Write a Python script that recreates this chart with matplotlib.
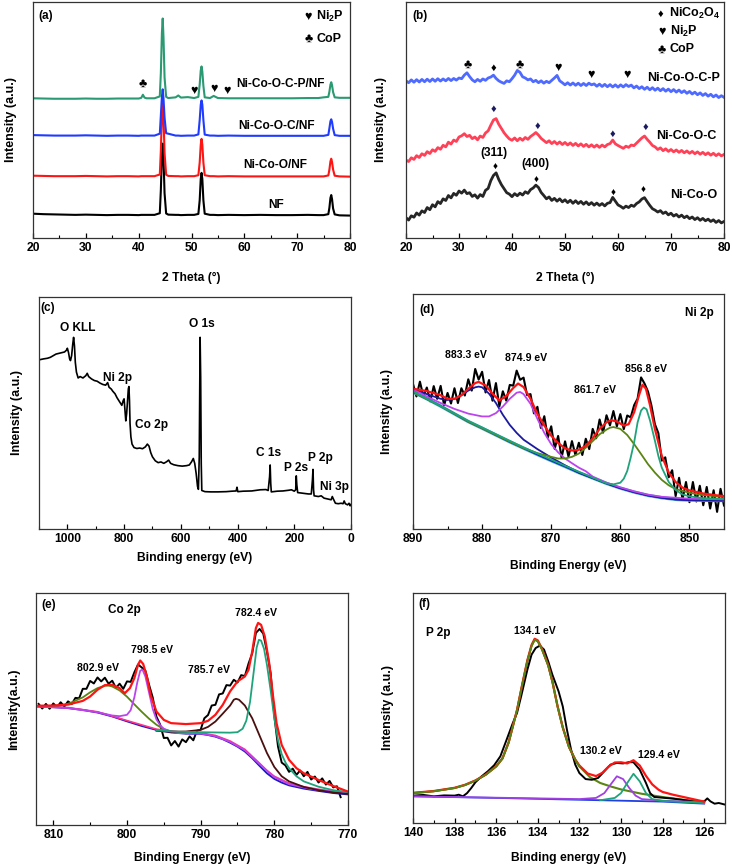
import numpy as np
import matplotlib
matplotlib.use('Agg')
import matplotlib.pyplot as plt
from matplotlib.ticker import MultipleLocator

plt.rcParams['font.family'] = ['Liberation Sans', 'DejaVu Sans']
plt.rcParams['font.weight'] = 'bold'
plt.rcParams['axes.labelweight'] = 'bold'
plt.rcParams['mathtext.fontset'] = 'custom'
plt.rcParams['mathtext.bf'] = 'Liberation Sans:bold'
plt.rcParams['mathtext.rm'] = 'Liberation Sans:bold'

# ---------------- (a) XRD on nickel foam ----------------
xa = [20, 22, 24, 26, 28, 30, 32, 34, 36, 38, 40, 40.5, 40.8, 41.1, 41.5, 43,
      44.0, 44.2, 44.4, 44.55, 44.7, 44.9, 45.2, 45.6,
      47.0, 47.5, 48.0, 49.3, 50.5,
      51.3, 51.55, 51.75, 51.9, 52.05, 52.25, 52.5,
      53.5, 54.2, 55, 57, 60, 63, 66, 69, 72, 74, 75.0,
      75.9, 76.1, 76.3, 76.45, 76.6, 76.8, 77.1, 78, 80]
nf = [10.3, 10.1, 10.0, 9.9, 9.8, 9.9, 9.8, 9.7, 9.8, 9.8, 9.7, 9.8, 9.8, 9.8, 9.8, 9.8,
      10.5, 20.4, 35.5, 40, 34, 19, 10.4, 9.9,
      9.8, 9.8, 9.7, 9.8, 9.8,
      10.2, 16, 25, 27.6, 25, 16, 10.3,
      9.8, 9.8, 9.7, 9.8, 9.7, 9.8, 9.7, 9.7, 9.8, 9.7, 9.7,
      10.1, 12.8, 17, 18.2, 16.5, 12.5, 10.0, 9.6, 9.5]
nco = [26.4, 26.3, 26.2, 26.2, 26.2, 26.3, 26.2, 26.1, 26.2, 26.2, 26.1, 26.2, 26.2, 26.2, 26.2, 26.2,
       26.9, 37, 52.5, 58, 51, 36, 26.8, 26.3,
       26.2, 26.2, 26.1, 26.2, 26.2,
       26.6, 32, 39.5, 42, 39.5, 32, 26.6,
       26.2, 26.2, 26.1, 26.2, 26.1, 26.1, 26.1, 26.1, 26.1, 26.1, 26.1,
       26.5, 29, 32.5, 33.6, 32.2, 29, 26.4, 26.1, 26.0]
ncoc = [43.6, 43.5, 43.4, 43.4, 43.4, 43.5, 43.4, 43.3, 43.4, 43.4, 43.3, 43.4, 43.4, 43.4, 43.4, 43.4,
        44.2, 52, 60, 63, 59, 51, 44.4, 44.2,
        43.4, 43.4, 43.3, 43.4, 43.4,
        43.9, 50, 56.5, 58.3, 56.5, 50, 43.8,
        43.4, 43.4, 43.3, 43.4, 43.3, 43.3, 43.3, 43.3, 43.3, 43.3, 43.3,
        43.7, 46.5, 49.5, 50.3, 49.2, 46.3, 43.6, 43.3, 43.3]
ncocp = [59.2, 59.1, 59.0, 59.0, 59.0, 59.1, 59.0, 59.0, 59.1, 59.1, 59.1, 59.4, 60.7, 59.5, 59.2, 59.2,
         60.0, 70, 87, 93, 85, 68, 59.8, 59.3,
         59.6, 60.4, 59.5, 59.7, 59.3,
         59.8, 65, 71, 72.7, 70.5, 64.5, 59.6,
         59.3, 60.2, 59.3, 59.2, 59.2, 59.2, 59.2, 59.2, 59.3, 59.3, 59.6,
         59.8, 62, 65, 66, 64.8, 61.8, 59.6, 59.4, 59.4]
a_labels = ['NF', 'Ni-Co-O/NF', 'Ni-Co-O-C/NF', 'Ni-Co-O-C-P/NF']
a_label_pos = [(66.0, 14.0), (65.9, 31.0), (66.1, 47.6), (66.9, 65.3)]
a_club = [(40.7, 65.3)]
a_heart = [(50.4, 62.5), (54.2, 63.2), (56.7, 62.2)]

# ---------------- (b) XRD powders, 0.5 degree steps from 20 ----------------
b_nco = [8.6, 7.6, 9.4, 8.8, 10.6, 9.7, 11.5, 10.8, 12.9, 12.0, 14.1, 13.2, 15.4, 14.6, 16.6, 15.9, 18.0, 17.0,
         18.9, 18.1, 19.9, 19.0, 20.3, 18.8, 19.2, 17.6, 18.3, 16.9, 18.4, 17.6, 20.2, 21.0, 24.3, 26.5, 27.6,
         24.8, 22.6, 20.9, 19.2, 18.6, 17.5, 18.8, 17.9, 19.0, 18.2, 19.6, 18.9, 20.5, 21.2, 22.4, 21.4, 19.3,
         18.0, 16.6, 17.4, 15.9, 16.8, 15.6, 16.6, 15.3, 16.2, 15.0, 16.0, 14.7, 15.8, 14.6, 15.5, 14.3, 15.3,
         14.1, 15.0, 13.9, 14.8, 13.8, 14.6, 13.6, 14.7, 15.0, 17.2, 15.6, 14.0, 13.4, 12.6, 13.5, 12.9, 13.9,
         13.4, 14.6, 15.3, 16.5, 17.1, 15.4, 13.8, 12.4, 11.8, 11.0, 11.6, 10.4, 11.0, 9.8, 10.5, 9.3, 10.0,
         8.9, 9.7, 8.6, 9.3, 8.2, 8.9, 7.8, 8.6, 7.5, 8.3, 7.3, 8.0, 7.0, 7.7, 6.6, 7.4, 6.4, 7.0]
b_ncoc = [33.0, 32.4, 34.0, 33.3, 34.9, 34.1, 35.7, 35.0, 36.6, 35.8, 37.4, 36.7, 38.3, 37.6, 39.3, 38.6, 40.6,
          39.8, 41.5, 40.9, 42.8, 43.3, 44.2, 43.0, 43.5, 42.1, 42.8, 41.6, 43.2, 42.6, 44.5, 45.4, 47.8, 50.0,
          50.6, 48.2, 46.4, 44.6, 43.2, 42.0, 41.4, 42.4, 41.2, 42.3, 41.4, 42.6, 41.8, 43.0, 43.8, 44.7, 43.6,
          42.2, 41.3, 40.4, 41.2, 40.0, 40.9, 39.8, 40.7, 39.6, 40.5, 39.4, 40.3, 39.2, 40.1, 39.0, 39.9, 38.8,
          39.7, 38.6, 39.5, 38.5, 39.4, 38.4, 39.4, 38.6, 39.6, 40.0, 41.5, 39.9, 39.2, 38.6, 38.0, 38.9, 38.4,
          39.4, 39.1, 40.2, 41.3, 42.4, 43.2, 41.8, 40.6, 39.2, 38.6, 37.5, 38.2, 37.0, 37.8, 36.7, 37.5, 36.5,
          37.3, 36.3, 37.1, 36.1, 36.9, 35.9, 36.7, 35.7, 36.5, 35.5, 36.3, 35.3, 36.1, 35.1, 35.9, 34.9, 35.7,
          34.8, 35.4]
b_ncocp = [66.6, 65.8, 67.0, 66.0, 67.1, 66.1, 67.2, 66.2, 67.3, 66.3, 67.4, 66.4, 67.5, 66.5, 67.4, 66.6, 67.6,
           66.7, 67.6, 66.9, 67.8, 67.5, 69.0, 70.0, 68.4, 67.0, 66.2, 67.2, 66.4, 67.4, 66.8, 67.8, 68.2, 69.0,
           67.6, 66.6, 66.0, 65.5, 66.6, 66.2, 67.5, 69.0, 71.0, 70.2, 68.3, 67.8, 67.0, 67.4, 66.2, 66.8, 65.8,
           66.6, 65.6, 66.4, 65.8, 66.8, 67.8, 68.9, 66.6, 65.8, 64.9, 65.8, 64.8, 65.7, 64.7, 65.6, 64.6, 65.5,
           64.6, 65.6, 64.9, 65.3, 64.3, 65.2, 64.2, 65.1, 64.1, 65.0, 64.0, 64.9, 63.9, 64.9, 64.0, 65.0, 64.2,
           64.8, 63.6, 64.4, 63.3, 64.1, 63.0, 63.9, 62.8, 63.7, 62.6, 63.5, 62.4, 63.3, 62.2, 63.1, 62.0, 62.9,
           61.8, 62.7, 61.6, 62.4, 61.3, 62.1, 61.0, 61.8, 60.7, 61.5, 60.4, 61.2, 60.1, 60.9, 59.8, 60.6, 59.5,
           60.3, 59.6]
b_labels = ['Ni-Co-O', 'Ni-Co-O-C', 'Ni-Co-O-C-P']
b_label_pos = [(74.3, 18.4), (72.9, 43.2), (72.3, 67.7)]
b_top_marks = [('♣', 31.6, 73.4), ('♦', 36.5, 71.9), ('♣', 41.4, 73.6),
               ('♥', 48.7, 71.9), ('♥', 54.9, 69.1), ('♥', 61.8, 69.1)]
b_mid_marks = [(36.5, 54.8), (44.8, 47.7), (59.0, 44.2), (65.1, 47.0)]
b_low_marks = [(36.8, 30.3), (44.6, 24.8), (59.1, 19.1), (64.7, 20.3)]

# ---------------- (c) XPS survey ----------------
c_be = [1100, 1085, 1070, 1060, 1050, 1040, 1030, 1020, 1010, 1003, 1000, 996, 992, 989, 985, 981, 978, 975, 972,
        968, 962, 955, 945, 935, 930, 925, 915, 905, 895, 885, 875, 865, 858, 853, 845, 840, 832, 825, 815, 808,
        803, 800, 797, 794, 791, 788, 785, 783, 781, 779, 776, 772, 765, 755, 745, 735, 725, 718, 712, 706, 700,
        690, 680, 670, 660, 650, 643, 636, 625, 610, 595, 580, 570, 562, 556, 551, 546, 541, 538, 535, 533, 532,
        530, 528, 526, 515, 495, 470, 440, 420, 405, 402, 399, 380, 350, 320, 300, 292, 287, 285, 283, 281, 260,
        240, 220, 210, 200, 195, 193, 191, 188, 170, 150, 140, 136, 134, 132, 130, 115, 105, 95, 80, 70, 66, 62,
        55, 45, 35, 28, 24, 20, 12, 7, 3, 0]
c_int = [72.9, 73.3, 73.6, 74.0, 74.7, 75.4, 75.7, 76.0, 76.3, 77.1, 77.9, 76.1, 73.3, 72.6, 74.7, 79.7, 82.6, 79.0,
         71.9, 67.6, 65.1, 65.7, 65.1, 66.1, 67.1, 65.7, 64.7, 64.0, 63.7, 62.9, 62.3, 62.0, 63.1, 61.1, 60.3,
         59.4, 58.3, 56.6, 54.7, 53.3, 55.4, 56.1, 51.1, 46.6, 49.7, 55.4, 60.4, 61.4, 55.4, 45.4, 39.7, 36.6,
         35.1, 34.7, 34.9, 34.6, 35.4, 36.6, 35.7, 32.9, 31.1, 29.4, 28.6, 28.9, 28.3, 29.0, 29.7, 28.3, 27.7,
         27.3, 27.1, 27.3, 27.6, 29.0, 30.4, 28.3, 24.0, 18.3, 17.1, 31.1, 68.3, 82.6, 65.4, 28.3, 16.6, 16.1,
         16.0, 16.0, 16.1, 16.3, 16.4, 18.0, 16.1, 16.3, 16.4, 16.9, 17.0, 16.6, 22.6, 27.6, 19.7, 16.0, 16.3,
         16.4, 16.7, 16.9, 16.3, 16.9, 22.9, 19.0, 15.7, 15.4, 15.1, 15.1, 21.1, 25.7, 16.9, 14.3, 14.0, 14.3,
         13.3, 12.9, 12.6, 14.0, 12.9, 11.1, 10.9, 11.1, 10.9, 12.1, 10.9, 10.4, 11.1, 10.0, 10.6]
c_peaks = [('O KLL', 962, 86.6), ('O 1s', 526, 88.3), ('Ni 2p', 824, 65.1), ('Co 2p', 703, 44.7),
           ('C 1s', 291, 32.9), ('P 2s', 194, 26.1), ('P 2p', 108, 30.4), ('Ni 3p', 58, 18.3)]

# ---------------- (d) Ni 2p ----------------
d_raw_x = list(np.arange(890, 844.9, -0.5))
d_raw = [61.7, 56.4, 62.7, 56.5, 60.2, 54.3, 60.8, 55.4, 60.9, 52.6, 57.9, 53.4, 59.9, 53.6, 59.9, 56.8, 63.7,
         58.9, 68.1, 63.6, 66.9, 58.1, 63.4, 54.6, 62.1, 52.2, 58.6, 54.6, 61.3, 61.0, 67.4, 63.5, 64.4, 57.0,
         57.4, 49.2, 52.0, 43.0, 48.0, 38.9, 43.7, 34.1, 39.6, 30.4, 37.3, 30.8, 37.4, 31.5, 36.7, 31.5, 38.4,
         34.0, 42.6, 38.6, 46.6, 41.0, 48.4, 44.1, 50.2, 43.7, 48.9, 42.5, 48.3, 47.5, 52.7, 55.5, 64.5, 61.9,
         58.5, 52.5, 44.6, 40.8, 29.1, 30.5, 22.0, 25.0, 14.0, 21.8, 12.6, 20.0, 11.4, 20.0, 11.7, 18.4, 10.1,
         17.9, 8.7, 16.5, 7.3, 17.1, 10.0]
d_env_x = [890, 888, 886, 885, 884, 883, 882, 881, 880.5, 879.5, 878.5, 877.5, 876.5, 875.5, 874.8, 874, 873, 872,
           871, 870, 869, 868, 867, 866, 865, 864, 863, 862, 861.3, 860.5, 859.5, 858.8, 858, 857.3, 856.8,
           856.3, 855.7, 855, 854, 853, 852, 851, 850, 848, 846, 845]
d_env = [59.7, 58.7, 56.9, 55.4, 55.4, 56.9, 59.7, 62.1, 62.6, 61.1, 57.6, 54.7, 56.6, 60.0, 61.9, 60.4, 55.4,
         49.0, 44.0, 39.7, 36.6, 34.3, 33.4, 33.7, 35.4, 38.6, 42.6, 45.4, 46.3, 45.7, 44.0, 44.6, 49.7, 56.9,
         61.4, 59.7, 52.6, 42.6, 31.1, 24.0, 20.0, 17.6, 16.4, 15.1, 14.3, 14.0]
d_bg_x = [890, 888, 886, 884, 882, 880, 878, 876, 874, 872, 870, 868, 866, 864, 862, 860, 858, 856, 854, 852, 850, 845]
d_bg = [58.3, 55.4, 52.3, 49.0, 45.7, 42.9, 40.0, 37.1, 34.4, 31.7, 29.1, 26.6, 24.0, 21.7, 19.4, 17.4, 15.7, 14.3,
        13.3, 12.6, 12.3, 12.1]
d_p883_x = [890, 888, 886, 885, 884, 883, 882, 881, 880.5, 880, 879, 878, 877, 876, 875, 874, 872, 870, 868, 866,
            864, 862, 860, 858, 856, 854, 852, 850, 845]
d_p883 = [59.4, 57.4, 55.4, 54.9, 55.3, 56.9, 58.9, 60.3, 60.6, 60.3, 57.6, 53.6, 48.6, 44.3, 40.9, 38.0, 34.0,
          30.4, 27.1, 24.0, 21.7, 19.4, 17.4, 15.7, 14.3, 13.3, 12.6, 12.3, 12.1]
d_p875_x = [890, 888, 886, 884, 882, 880, 879, 878, 877, 876, 875, 874.5, 874, 873, 872, 871, 870, 869, 868, 867,
            866, 865, 864, 862, 860, 858, 856, 854, 850, 845]
d_p875 = [59.4, 56.4, 53.6, 51.1, 49.1, 47.9, 47.9, 49.3, 52.1, 55.4, 58.0, 58.3, 57.4, 53.3, 46.9, 40.9, 36.1,
          32.6, 30.0, 28.0, 26.1, 24.6, 22.3, 19.7, 17.7, 16.0, 14.6, 13.7, 12.9, 12.6]
d_p862_x = [890, 886, 882, 878, 874, 872, 870, 869, 868, 867, 866, 865, 864, 863, 862, 861.5, 861, 860, 859, 858,
            857, 856, 855, 854, 853, 852, 850, 848, 845]
d_p862 = [58.3, 52.3, 45.7, 40.0, 34.4, 32.3, 30.7, 30.0, 30.0, 30.7, 32.1, 34.6, 37.4, 40.3, 42.3, 43.1, 43.4,
          42.6, 40.0, 36.1, 31.9, 27.6, 24.0, 20.9, 18.6, 17.0, 15.4, 14.4, 13.7]
d_p857_x = [890, 882, 874, 866, 862, 861, 860, 859.5, 859, 858.5, 858, 857.5, 857, 856.6, 856.2, 855.7, 855,
            854.5, 854, 853, 852, 851, 850, 848, 845]
d_p857 = [58.6, 46.0, 34.7, 24.3, 19.4, 19.0, 19.7, 21.4, 24.7, 30.4, 36.9, 45.4, 50.4, 51.7, 50.9, 46.1, 37.6,
          31.1, 26.1, 20.0, 16.6, 14.7, 13.9, 13.1, 12.9]
d_peaks = [('883.3 eV', 882.4, 74.0), ('874.9 eV', 873.7, 72.6), ('861.7 eV', 863.7, 59.0), ('856.8 eV', 856.3, 68.0)]

# ---------------- (e) Co 2p ----------------
e_raw_x = list(np.arange(812, 770.9, -0.5))
e_raw = [52.2, 50.2, 52.2, 50.1, 52.4, 50.8, 52.9, 51.1, 53.3, 52.1, 54.8, 54.6, 58.7, 58.7, 62.1, 61.0, 63.6,
         61.9, 63.5, 60.9, 62.2, 59.1, 60.9, 58.7, 61.9, 61.7, 65.8, 69.2, 67.9, 66.5, 60.4, 54.9, 46.7, 43.3,
         37.5, 37.6, 34.3, 36.2, 33.8, 36.9, 35.7, 38.2, 36.5, 40.6, 41.1, 46.0, 47.4, 51.5, 51.8, 56.3, 56.7,
         60.3, 60.1, 62.6, 61.4, 64.6, 64.2, 69.6, 74.0, 82.8, 84.5, 82.5, 74.7, 65.5, 47.0, 33.8, 26.9, 25.7,
         22.9, 24.3, 21.6, 23.5, 21.0, 22.9, 19.6, 20.9, 18.3, 20.1, 17.4, 19.0, 16.2, 16.7, 12.0]
e_env_x = [812, 810, 808, 806, 805, 804, 803, 802, 801, 800.3, 799.6, 799, 798.5, 798.2, 797.8, 797.3, 796.8, 796,
           795, 794, 792, 790, 789, 788, 787, 786, 785, 784, 783.5, 783, 782.5, 782.2, 781.8, 781.3, 780.7,
           780.2, 779.7, 779, 778, 777, 776, 774, 772, 770]
e_env = [51.4, 51.5, 51.9, 53.5, 55.4, 58.3, 60.3, 60.4, 59.0, 56.8, 59.0, 63.3, 69.1, 70.9, 69.4, 64.0, 56.1,
         48.9, 45.3, 43.9, 43.5, 43.9, 44.9, 47.5, 51.8, 57.6, 61.9, 64.0, 66.9, 74.8, 84.9, 87.1, 86.3, 81.3,
         69.8, 56.1, 43.9, 34.5, 28.1, 24.5, 22.3, 19.4, 16.8, 14.4]
e_bg_x = [812.3, 810, 808, 806, 804, 802, 800, 798, 796, 794, 792, 790, 789, 788, 787, 786, 785, 784, 783, 782,
          781, 780, 779, 778, 776, 774, 772, 770]
e_bg = [51.1, 50.8, 50.4, 49.6, 48.5, 46.8, 44.7, 42.7, 41.0, 39.9, 39.4, 39.3, 38.8, 38.1, 37.0, 35.5, 33.8,
        31.7, 28.8, 25.5, 22.3, 19.9, 18.3, 17.1, 15.7, 14.7, 13.8, 13.2]
e_pink_x = [812.3, 808, 804, 800, 796, 792, 790, 788, 786, 784, 782, 781, 780, 778, 776, 774, 772, 770]
e_pink = [51.3, 50.6, 48.8, 45.0, 41.3, 39.8, 39.7, 38.6, 36.2, 32.6, 26.6, 23.5, 21.0, 18.0, 16.5, 15.4, 14.5, 13.8]
e_p803_x = [812.3, 810, 808, 806, 805, 804, 803, 802.5, 802, 801, 800, 799, 798, 797, 796, 795, 794, 793, 792]
e_p803 = [51.1, 51.2, 52.2, 55.0, 57.2, 59.0, 60.0, 60.1, 59.7, 58.0, 55.3, 52.0, 48.8, 45.8, 43.2, 41.3, 40.2, 39.8, 39.5]
e_p798_x = [812.3, 808, 804, 802, 801, 800, 799.5, 799, 798.6, 798.2, 797.9, 797.5, 797, 796.5, 796, 795.5, 795,
            794, 793, 790, 788, 786, 784, 782, 780, 778, 775, 770]
e_p798 = [51.1, 50.4, 48.6, 47.2, 46.9, 47.5, 49.5, 55.0, 61.5, 66.5, 67.0, 64.0, 57.0, 50.0, 45.5, 43.0, 41.5,
          40.2, 39.6, 39.4, 38.3, 35.8, 32.2, 26.2, 20.6, 17.6, 15.5, 13.6]
e_p786_x = [796, 794, 792, 790, 789, 788, 787, 786, 785.5, 785.2, 784.8, 784, 783, 782, 781, 780, 779, 778, 776,
            774, 772, 770]
e_p786 = [40.6, 40.2, 40.3, 41.0, 42.3, 44.6, 48.0, 51.5, 54.0, 54.4, 54.0, 51.5, 46.0, 38.5, 31.0, 25.0, 21.0,
          18.8, 16.4, 15.0, 14.0, 13.4]
e_p782_x = [796, 793, 790, 788, 786, 785, 784.3, 783.8, 783.3, 782.8, 782.4, 782.1, 781.8, 781.4, 781, 780.5, 780,
            779.5, 779, 778.5, 778, 777, 776, 774, 772, 770]
e_p782 = [40.8, 40.2, 40.0, 39.9, 39.8, 40.0, 41.5, 45.0, 53.0, 66.0, 76.5, 79.8, 79.5, 76.0, 69.0, 58.0, 46.0,
          36.5, 30.5, 27.0, 24.5, 21.0, 18.8, 16.5, 15.0, 14.2]
e_peaks = [('802.9 eV', 803.9, 67.6), ('798.5 eV', 796.6, 75.5), ('785.7 eV', 788.8, 66.9), ('782.4 eV', 782.5, 91.4)]

# ---------------- (f) P 2p ----------------
f_raw_x = [140, 139.5, 139, 138.5, 138, 137.8, 137.6, 137.4, 137.2, 137, 136.7, 136.4, 136.1, 135.8, 135.5,
           135.2, 135.0, 134.8, 134.5, 134.3, 134.1, 133.9, 133.7, 133.5, 133.3, 133.0, 132.8, 132.6, 132.4,
           132.2, 132.0, 131.7, 131.4, 131.1, 130.8, 130.5, 130.2, 129.9, 129.6, 129.4, 129.1, 128.8, 128.6,
           128.4, 127.5, 127, 126.5, 126.2, 126.0, 125.85, 125.7, 125.5, 125.3, 125.0]
f_raw = [11.9, 12.2, 11.6, 12.0, 11.9, 12.3, 11.6, 13.0, 15.2, 17.7, 20.3, 22.5, 25.1, 29.0, 36.2, 43.5, 47.8,
         55.1, 66.7, 73.2, 76.1, 77.1, 75.4, 70.3, 64.5, 57.2, 50.7, 40.6, 31.9, 25.4, 21.7, 19.1, 18.8, 19.6,
         22.5, 25.4, 26.1, 25.9, 26.5, 26.4, 23.2, 17.4, 13.0, 11.3, 10.6, 10.0, 9.3, 9.0, 9.4, 10.7, 9.4, 8.4,
         8.7, 8.0]
f_p134_x = [140, 139, 138, 137.5, 137, 136.5, 136, 135.7, 135.4, 135.2, 135.0, 134.75, 134.5, 134.3, 134.15, 134.0,
            133.8, 133.5, 133.3, 133.05, 132.8, 132.5, 132.2, 132.0, 131.5, 131, 130.5, 130, 129, 128, 127, 126]
f_p134 = [13.0, 13.8, 15.2, 16.5, 18.4, 21.0, 24.6, 28.0, 35.0, 42.0, 49.0, 60.0, 70.5, 77.0, 79.7, 79.0, 75.5,
          68.5, 61.5, 50.7, 41.5, 33.0, 27.5, 24.6, 20.0, 17.4, 15.9, 14.6, 12.7, 11.3, 10.1, 9.3]
f_env_x = f_p134_x[:24] + [131.6, 131.2, 130.9, 130.6, 130.3, 130.0, 129.7, 129.4, 129.1, 128.8, 128.5, 128.2,
                           128.0, 127.5, 127.0, 126.5, 126.0]
f_env = [13.1, 13.9, 15.3, 16.6, 18.5, 21.1, 24.7, 28.1, 35.1, 42.1, 49.1, 60.2, 70.8, 77.4, 80.1, 79.4, 75.8,
         68.7, 61.6, 50.8, 41.6, 33.1, 27.6, 25.0, 21.5, 20.4, 21.8, 24.5, 26.3, 26.4, 25.9, 27.3, 25.0, 20.5,
         16.8, 14.5, 13.5, 12.3, 11.3, 10.3, 9.3]
f_p130_x = [140, 136, 132, 131.2, 130.8, 130.5, 130.2, 129.9, 129.6, 129.3, 129, 128, 126]
f_p130 = [11.6, 11.0, 10.4, 10.9, 13.0, 16.7, 20.3, 19.1, 15.2, 11.9, 10.4, 9.7, 9.0]
f_p129_x = [131, 130.3, 130, 129.7, 129.4, 129.1, 128.8, 128.5, 128, 126]
f_p129 = [9.9, 10.9, 13.0, 17.4, 21.4, 18.1, 13.0, 10.4, 9.6, 8.7]
f_bg_x = [140, 136, 132, 128, 126]
f_bg = [11.6, 10.9, 10.1, 9.3, 8.4]
f_peaks = [('134.1 eV', 134.16, 83.3), ('130.2 eV', 130.96, 31.2), ('129.4 eV', 128.16, 29.7)]

RED = '#ff1414'
TEAL = '#1ea37a'
OLIVE = '#5b8512'
PURPLE = '#bb44ee'
FS = 8.7

fig = plt.figure(figsize=(7.32, 8.67), dpi=100)
W, H = 732.0, 867.0


def make_ax(l, r, t, b):
    return fig.add_axes([l / W, 1 - b / H, (r - l) / W, (b - t) / H])


def style(ax, xlim, major, minor, xlabel, ylabel, xlab_y, ylab_x):
    ax.set_xlim(*xlim)
    ax.set_ylim(0, 100)
    ax.xaxis.set_major_locator(MultipleLocator(major))
    ax.xaxis.set_minor_locator(MultipleLocator(minor))
    ax.tick_params(axis='x', which='major', direction='in', length=3.5, width=0.9, labelsize=FS, pad=3)
    ax.tick_params(axis='x', which='minor', direction='in', length=2.2, width=0.8)
    ax.tick_params(axis='y', left=False, labelleft=False)
    for s in ax.spines.values():
        s.set_linewidth(0.9)
        s.set_color('#333333')
    for lab in ax.get_xticklabels():
        lab.set_fontweight('bold')
    ax.set_xlabel(xlabel, fontsize=FS, fontweight='bold')
    ax.set_ylabel(ylabel, fontsize=9, fontweight='bold')
    ax.xaxis.set_label_coords(0.5, xlab_y)
    ax.yaxis.set_label_coords(ylab_x, 0.5)


def note(ax, s, x, y, size=7.6, **kw):
    ax.text(x, y, s, fontsize=size, fontweight='bold', ha=kw.pop('ha', 'center'),
            va=kw.pop('va', 'center'), **kw)


# (a)
ax = make_ax(33, 350, 2, 238)
for y, c in zip([nf, nco, ncoc, ncocp], ['black', RED, '#1f3bff', '#2b9a72']):
    ax.plot(xa, y, color=c, lw=1.5)
for s, (x, y) in zip(a_labels, a_label_pos):
    note(ax, s, x, y, size=8.6)
for x, y in a_club:
    note(ax, '♣', x, y, size=9)
for x, y in a_heart:
    note(ax, '♥', x, y, size=9)
note(ax, '♥', 72.1, 93.7, size=9)
note(ax, r'Ni$_\mathbf{2}$P', 73.6, 93.7, size=9, ha='left')
note(ax, '♣', 72.1, 84.3, size=9)
note(ax, 'CoP', 73.6, 84.3, size=9, ha='left')
ax.text(0.018, 0.94, '(a)', transform=ax.transAxes, fontsize=8.5, fontweight='bold', va='center')
style(ax, (20, 80), 10, 5, '2 Theta (°)', 'Intensity (a.u.)', -0.145, -0.049)

# (b)
ax = make_ax(406, 724, 2, 238)
for y, c in zip([b_nco, b_ncoc, b_ncocp], ['black', '#ff1f3a', '#3050ff']):
    xb = 20 + 0.5 * np.arange(len(y))
    ax.plot(xb, y, color=c, lw=2.0, alpha=0.85)
for s, (x, y) in zip(b_labels, b_label_pos):
    note(ax, s, x, y, size=9)
for m, x, y in b_top_marks:
    note(ax, m, x, y, size=8 if m == '♦' else 9)
for x, y in b_mid_marks:
    note(ax, '♦', x, y, size=8, color='#1a1a60')
for x, y in b_low_marks:
    note(ax, '♦', x, y, size=7)
note(ax, '(311)', 36.65, 36.0, size=8.6)
note(ax, '(400)', 44.4, 31.2, size=8.6)
note(ax, '♦', 68.1, 95.1, size=8)
note(ax, r'NiCo$_\mathbf{2}$O$_\mathbf{4}$', 69.6, 95.1, size=9, ha='left')
note(ax, '♥', 68.3, 87.4, size=9)
note(ax, r'Ni$_\mathbf{2}$P', 69.8, 87.4, size=9, ha='left')
note(ax, '♣', 68.3, 79.9, size=9)
note(ax, 'CoP', 69.8, 79.9, size=9, ha='left')
ax.text(0.021, 0.94, '(b)', transform=ax.transAxes, fontsize=8.5, fontweight='bold', va='center')
style(ax, (20, 80), 10, 5, '2 Theta (°)', 'Intensity (a.u.)', -0.145, -0.061)

# (c)
ax = make_ax(39, 351, 297, 529)
ax.plot(c_be, c_int, color='black', lw=1.2)
for s, x, y in c_peaks:
    note(ax, s, x, y, size=8.6)
ax.text(0.006, 0.952, '(c)', transform=ax.transAxes, fontsize=8.5, fontweight='bold', va='center')
style(ax, (1100, 0), 200, 100, 'Binding energy (eV)', 'Intensity (a.u.)', -0.099, -0.050)

# (d)
ax = make_ax(413, 724, 294, 529)
ax.plot(d_raw_x[:len(d_raw)], d_raw, color='black', lw=1.5)
ax.plot(d_bg_x, d_bg, color='#4aa8c8', lw=2.4)
ax.plot(d_bg_x, d_bg, color='#1020c0', lw=1.3)
ax.plot(d_p883_x, d_p883, color='#1a1aa0', lw=1.3)
ax.plot(d_p875_x, d_p875, color=PURPLE, lw=1.3)
ax.plot(d_p862_x, d_p862, color=OLIVE, lw=1.3)
ax.plot(d_p857_x, d_p857, color=TEAL, lw=1.3)
ax.plot(d_env_x, d_env, color=RED, lw=1.6)
for s, x, y in d_peaks:
    note(ax, s, x, y)
ax.text(0.019, 0.933, '(d)', transform=ax.transAxes, fontsize=8.5, fontweight='bold', va='center')
ax.text(0.968, 0.92, 'Ni 2p', transform=ax.transAxes, fontsize=8.5, fontweight='bold', va='center', ha='right')
style(ax, (890, 845), 10, 5, 'Binding Energy (eV)', 'Intensity (a.u.)', -0.132, -0.063)

# (e)
ax = make_ax(36, 348, 593, 825)
ax.plot(e_raw_x[:len(e_raw)], e_raw, color='black', lw=1.4)
ax.plot(e_bg_x, e_bg, color='#1a1ac0', lw=1.4)
ax.plot(e_pink_x, e_pink, color='#ff3388', lw=1.2)
ax.plot(e_p803_x, e_p803, color=OLIVE, lw=1.3)
ax.plot(e_p798_x, e_p798, color=PURPLE, lw=1.3)
ax.plot(e_p786_x, e_p786, color='#4a0f0f', lw=1.3)
ax.plot(e_p782_x, e_p782, color=TEAL, lw=1.3)
ax.plot(e_env_x, e_env, color=RED, lw=1.6)
for s, x, y in e_peaks:
    note(ax, s, x, y)
note(ax, 'Co 2p', 800.4, 92.8, size=8.5)
ax.text(0.018, 0.95, '(e)', transform=ax.transAxes, fontsize=8.5, fontweight='bold', va='center')
style(ax, (812.35, 770), 10, 5, 'Binding Energy (eV)', 'Intensity(a.u.)', -0.116, -0.050)

# (f)
ax = make_ax(413, 725, 593, 823)
ax.plot(f_p134_x, f_p134, color=OLIVE, lw=1.5)
ax.plot(f_raw_x, f_raw, color='black', lw=1.4)
ax.plot(f_bg_x, f_bg, color='#2040e0', lw=1.3)
ax.plot(f_p130_x, f_p130, color='#a040e0', lw=1.3)
ax.plot(f_p129_x, f_p129, color=TEAL, lw=1.3)
ax.plot(f_env_x, f_env, color=RED, lw=1.6)
ax.plot(f_p134_x[:24], f_p134[:24], color=OLIVE, lw=1.3)
for s, x, y in f_peaks:
    note(ax, s, x, y)
note(ax, 'P 2p', 138.8, 82.6, size=8.5)
ax.text(0.016, 0.95, '(f)', transform=ax.transAxes, fontsize=8.5, fontweight='bold', va='center')
style(ax, (140, 125), 2, 1, 'Binding energy (eV)', 'Intensity (a.u.)', -0.126, -0.0625)

fig.savefig('out.png', dpi=100)
